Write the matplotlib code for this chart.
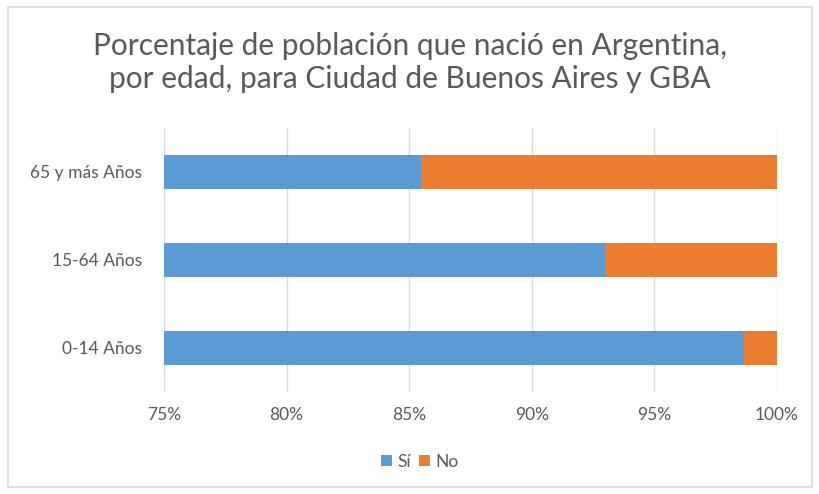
import matplotlib.pyplot as plt
from matplotlib.patches import Rectangle
from matplotlib.ticker import FuncFormatter

# Data
grupos = ['0-14 Años', '15-64 Años', '65 y más Años']
si = [98.65, 93.0, 85.5]
no = [100 - v for v in si]

plt.rcParams['font.family'] = ['Lato', 'DejaVu Sans']
gris = '#595959'

fig = plt.figure(figsize=(8.2, 4.94), dpi=100)
ax = fig.add_axes([0.2, 0.2065, 0.7476, 0.5345])

ax.barh(grupos, si, height=0.39, color='#5B9BD5', label='Sí')
ax.barh(grupos, no, left=si, height=0.39, color='#ED7D31', label='No')

ax.set_xlim(75, 100)
ax.set_ylim(-0.5, 2.5)
ax.set_xticks([75, 80, 85, 90, 95, 100])
ax.xaxis.set_major_formatter(FuncFormatter(lambda v, p: f'{v:.0f}%'))
ax.grid(axis='x', color='#D9D9D9', linewidth=1)
ax.set_axisbelow(True)
for s in ax.spines.values():
    s.set_visible(False)
ax.tick_params(length=0, colors=gris, labelsize=12.5)
ax.tick_params(axis='x', pad=11)
ax.tick_params(axis='y', pad=16)

fig.text(0.5, 0.873, 'Porcentaje de población que nació en Argentina,\npor edad, para Ciudad de Buenos Aires y GBA',
         ha='center', va='center', fontsize=21.5, color=gris, linespacing=1.2)

fig.legend(loc='center', bbox_to_anchor=(0.512, 0.065), ncol=2, frameon=False,
           fontsize=12.5, labelcolor=gris, handlelength=0.6, handleheight=0.6,
           handletextpad=0.3, columnspacing=0.5)

fig.patches.append(Rectangle((0.01, 0.015), 0.98, 0.97, transform=fig.transFigure,
                             fill=False, edgecolor='#D9D9D9', linewidth=1.2))

fig.savefig('out.png', dpi=100)
